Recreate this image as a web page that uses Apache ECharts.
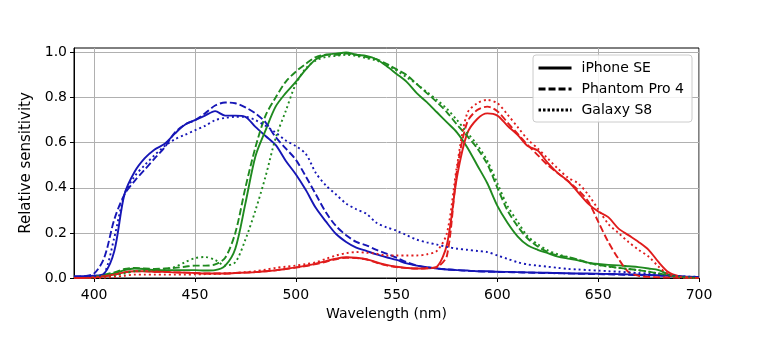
<!DOCTYPE html>
<html>
<head>
<meta charset="utf-8">
<script src="https://cdn.jsdelivr.net/npm/echarts@6/dist/echarts.min.js"></script>
<style>
html,body{margin:0;padding:0;background:#fff;}
#chart{width:758px;height:343px;}
</style>
</head>
<body>
<div id="chart"></div>
<script>
const wavelengths = [390,395,400,405,410,415,420,425,430,435,440,445,450,455,460,465,470,475,480,485,490,495,500,505,510,515,520,525,530,535,540,545,550,555,560,565,570,575,580,585,590,595,600,605,610,615,620,625,630,635,640,645,650,655,660,665,670,675,680,685,690,695,700];

const xTicks = [400,450,500,550,600,650,700];
const yTicks = [0,0.2,0.4,0.6,0.8,1.0];
const legendNames = ["iPhone SE","Phantom Pro 4","Galaxy S8"];

// iPhone SE (solid)
const iphoneBlue = [0.008,0.008,0.01,0.02,0.12,0.37,0.47,0.53,0.57,0.595,0.64,0.68,0.70,0.72,0.74,0.72,0.72,0.715,0.67,0.63,0.59,0.52,0.46,0.39,0.31,0.25,0.195,0.16,0.135,0.12,0.105,0.092,0.08,0.065,0.055,0.048,0.042,0.038,0.035,0.033,0.03,0.03,0.028,0.027,0.026,0.025,0.024,0.023,0.022,0.021,0.02,0.02,0.019,0.018,0.017,0.016,0.015,0.014,0.012,0.01,0.008,0.006,0.005];
const iphoneGreen = [0,0,0.003,0.01,0.02,0.035,0.042,0.04,0.035,0.035,0.035,0.035,0.035,0.033,0.035,0.055,0.13,0.33,0.54,0.655,0.76,0.82,0.87,0.925,0.97,0.99,0.995,1.0,0.99,0.985,0.97,0.94,0.905,0.87,0.82,0.78,0.735,0.69,0.645,0.58,0.5,0.42,0.32,0.245,0.185,0.145,0.125,0.11,0.095,0.086,0.078,0.068,0.062,0.058,0.056,0.052,0.048,0.042,0.035,0.015,0.006,0.002,0];
const iphoneRed = [0,0,0.003,0.008,0.015,0.025,0.03,0.03,0.028,0.027,0.025,0.024,0.022,0.02,0.02,0.02,0.022,0.024,0.026,0.03,0.034,0.04,0.047,0.055,0.064,0.075,0.086,0.092,0.09,0.084,0.07,0.058,0.05,0.045,0.042,0.043,0.05,0.15,0.45,0.64,0.705,0.73,0.72,0.675,0.635,0.585,0.565,0.51,0.465,0.43,0.38,0.33,0.295,0.27,0.22,0.19,0.16,0.125,0.07,0.025,0.008,0.003,0];

// Phantom Pro 4 (dashed)
const phantomBlue = [0.005,0.008,0.02,0.09,0.26,0.37,0.43,0.48,0.53,0.58,0.645,0.68,0.70,0.73,0.765,0.778,0.775,0.757,0.73,0.69,0.625,0.575,0.525,0.45,0.37,0.29,0.23,0.19,0.16,0.145,0.125,0.108,0.09,0.07,0.055,0.048,0.042,0.038,0.035,0.032,0.03,0.028,0.027,0.026,0.025,0.024,0.023,0.022,0.021,0.02,0.019,0.018,0.017,0.016,0.015,0.014,0.013,0.012,0.011,0.009,0.007,0.005,0.004];
const phantomGreen = [0,0,0.005,0.015,0.025,0.04,0.045,0.042,0.04,0.042,0.045,0.05,0.055,0.055,0.06,0.09,0.2,0.4,0.58,0.72,0.8,0.87,0.915,0.95,0.98,0.99,0.99,0.995,0.99,0.98,0.97,0.95,0.925,0.9,0.86,0.82,0.78,0.735,0.68,0.63,0.575,0.505,0.4,0.3,0.23,0.175,0.14,0.115,0.1,0.093,0.082,0.068,0.058,0.052,0.045,0.04,0.035,0.028,0.02,0.012,0.005,0.002,0];
const phantomRed = [0,0,0.003,0.008,0.015,0.025,0.03,0.03,0.028,0.027,0.025,0.024,0.022,0.02,0.02,0.02,0.022,0.024,0.026,0.03,0.034,0.04,0.046,0.053,0.062,0.072,0.083,0.09,0.088,0.082,0.068,0.056,0.048,0.044,0.042,0.043,0.048,0.1,0.48,0.69,0.745,0.76,0.74,0.69,0.64,0.59,0.545,0.5,0.465,0.43,0.39,0.34,0.25,0.16,0.086,0.027,0.01,0.005,0.003,0.002,0.001,0,0];

// Galaxy S8 (dotted)
const galaxyBlue = [0.005,0.005,0.008,0.02,0.18,0.37,0.45,0.5,0.545,0.585,0.615,0.635,0.655,0.675,0.70,0.71,0.715,0.715,0.70,0.675,0.645,0.61,0.585,0.55,0.465,0.41,0.37,0.33,0.305,0.285,0.245,0.225,0.21,0.19,0.17,0.158,0.148,0.138,0.13,0.125,0.12,0.115,0.1,0.085,0.07,0.06,0.055,0.05,0.045,0.04,0.038,0.035,0.033,0.03,0.028,0.025,0.022,0.02,0.016,0.012,0.008,0.006,0.005];
const galaxyGreen = [0,0,0,0.003,0.01,0.02,0.03,0.032,0.035,0.04,0.049,0.07,0.088,0.093,0.08,0.055,0.07,0.17,0.3,0.45,0.62,0.74,0.86,0.93,0.965,0.98,0.985,0.99,0.985,0.975,0.965,0.945,0.92,0.89,0.86,0.825,0.79,0.75,0.7,0.645,0.59,0.52,0.42,0.32,0.25,0.185,0.15,0.123,0.105,0.093,0.08,0.066,0.058,0.05,0.045,0.04,0.034,0.028,0.02,0.012,0.005,0.002,0];
const galaxyRed = [0,0,0,0.002,0.005,0.01,0.015,0.015,0.015,0.015,0.015,0.015,0.016,0.017,0.018,0.02,0.022,0.026,0.03,0.037,0.045,0.05,0.055,0.062,0.07,0.085,0.1,0.11,0.115,0.112,0.108,0.1,0.1,0.1,0.1,0.105,0.12,0.2,0.5,0.73,0.775,0.79,0.775,0.725,0.67,0.615,0.575,0.53,0.485,0.445,0.42,0.37,0.305,0.24,0.2,0.16,0.125,0.095,0.05,0.015,0.005,0.002,0];

const BLUE = '#1616b6', GREEN = '#1f8a1f', RED = '#e01c1c';
const DASH = [7,3], DOT = [2,3];
const FONT = 'DejaVu Sans';

function pairs(arr){ return wavelengths.map((w,i)=>[w, arr[i]]); }
function mk(name, arr, color, type){
  return {
    type:'line', name:name, data:pairs(arr), showSymbol:false, symbol:'none',
    smooth:0.3, silent:true, z:3,
    lineStyle:{color:color, width:1.9, type:type, cap:'butt'}
  };
}
function legendSeries(name, type){
  return {type:'line', name:name, data:[], symbol:'none', showSymbol:false, color:'#000',
    itemStyle:{color:'rgba(0,0,0,0)', opacity:0},
    lineStyle:{color:'#000', width:3, type:type, cap:'butt'}};
}

const series = [
  mk('iPhone SE blue', iphoneBlue, BLUE, 'solid'),
  mk('iPhone SE green', iphoneGreen, GREEN, 'solid'),
  mk('iPhone SE red', iphoneRed, RED, 'solid'),
  mk('Phantom blue', phantomBlue, BLUE, DASH),
  mk('Phantom green', phantomGreen, GREEN, DASH),
  mk('Phantom red', phantomRed, RED, DASH),
  mk('Galaxy blue', galaxyBlue, BLUE, DOT),
  mk('Galaxy green', galaxyGreen, GREEN, DOT),
  mk('Galaxy red', galaxyRed, RED, DOT),
  legendSeries(legendNames[0], 'solid'),
  legendSeries(legendNames[1], [7,3]),
  legendSeries(legendNames[2], [2.5,2])
];

const chart = echarts.init(document.getElementById('chart'), null, {renderer:'canvas'});
chart.setOption({
  animation:false,
  backgroundColor:'#fff',
  textStyle:{fontFamily:FONT},
  grid:{left:74, right:59, top:48, bottom:65, show:true, borderColor:'#000', borderWidth:1, backgroundColor:'transparent'},
  legend:{
    data:legendNames, orient:'vertical', right:66, top:55,
    padding:[6,8,5,4], itemGap:7, itemWidth:33, itemHeight:14,
    backgroundColor:'rgba(255,255,255,0.85)', borderColor:'#cccccc', borderWidth:1, borderRadius:3,
    itemStyle:{color:'rgba(0,0,0,0)', borderWidth:0, opacity:0},
    lineStyle:{width:3, color:'#000'},
    textStyle:{fontFamily:FONT, fontSize:14, color:'#000', padding:[0,0,0,5]},
    selectedMode:false
  },
  xAxis:{
    type:'value', min:390, max:700,
    name:'Wavelength (nm)', nameLocation:'middle', nameGap:29,
    nameTextStyle:{fontFamily:FONT, fontSize:14, color:'#000'},
    axisLine:{show:true, onZero:false, lineStyle:{color:'#000', width:1}},
    axisTick:{show:true, inside:false, length:4, customValues:xTicks, lineStyle:{color:'#000'}},
    axisLabel:{show:true, margin:10, customValues:xTicks, fontFamily:FONT, fontSize:14, color:'#000'},
    splitLine:{show:true, lineStyle:{color:'#b0b0b0', width:1}}
  },
  yAxis:{
    type:'value', min:0, max:1.02,
    name:'Relative sensitivity', nameLocation:'middle', nameGap:32,
    nameTextStyle:{fontFamily:FONT, fontSize:15, color:'#000'},
    axisLine:{show:true, onZero:false, lineStyle:{color:'#000', width:1}},
    axisTick:{show:true, inside:false, length:4, customValues:yTicks, lineStyle:{color:'#000'}},
    axisLabel:{show:true, margin:7, customValues:yTicks, fontFamily:FONT, fontSize:14, color:'#000',
      formatter:function(v){return v.toFixed(1);}},
    splitLine:{show:true, lineStyle:{color:'#b0b0b0', width:1}}
  },
  series:series
});
</script>
</body>
</html>
